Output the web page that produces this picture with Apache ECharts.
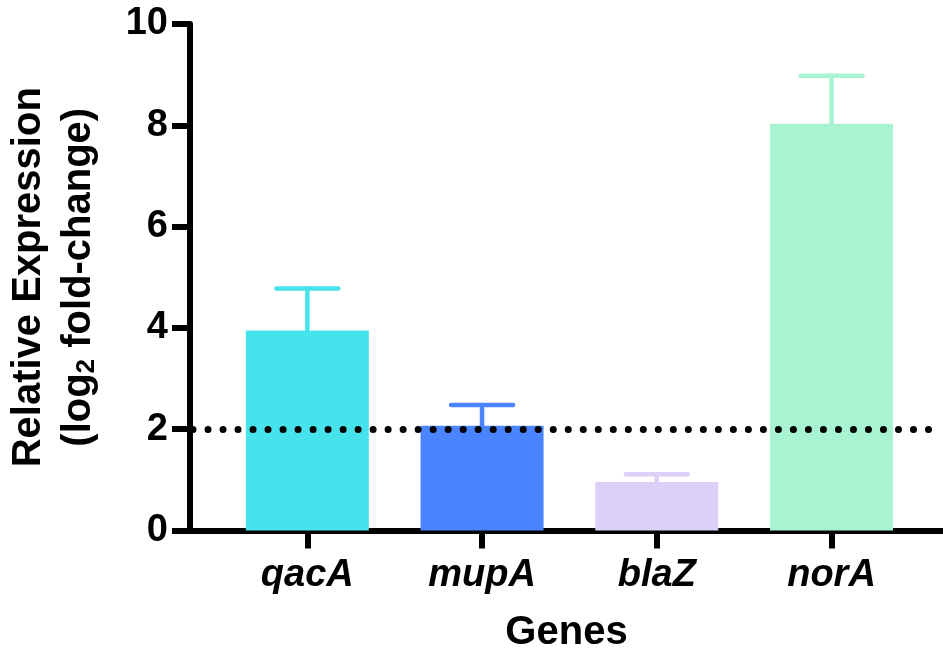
<!DOCTYPE html>
<html>
<head>
<meta charset="utf-8">
<style>
  html, body { margin: 0; padding: 0; background: #fff; }
  #chart { width: 943px; height: 650px; }
</style>
<script src="https://cdn.jsdelivr.net/npm/echarts@6/dist/echarts.min.js"></script>
</head>
<body>
<div id="chart"></div>
<script>
const genes = ['qacA', 'mupA', 'blaZ', 'norA'];
const positions = [1, 2, 3, 4];
const means = [3.95, 2.07, 0.96, 8.03];
const upperErr = [4.78, 2.48, 1.11, 8.98];
const barColors = ['#47E3EC', '#4A84FF', '#DDD0F8', '#A7F3D2'];
const threshold = 2;

const font = "'Liberation Sans', Arial, sans-serif";
const chart = echarts.init(document.getElementById('chart'));

const barData = positions.map((x, i) => ({
  value: [x, means[i]],
  itemStyle: { color: barColors[i] },
}));

const errData = positions.map((x, i) => [x, means[i], upperErr[i], i]);

const option = {
  animation: false,
  grid: { left: 190, right: 0, top: 24, bottom: 119.5, outerBoundsMode: 'none' },
  xAxis: {
    type: 'value',
    min: 0.3286,
    max: 4.638,
    splitLine: { show: false },
    axisLine: { lineStyle: { color: '#000', width: 6 } },
    axisTick: {
      customValues: positions,
      length: 18,
      lineStyle: { color: '#000', width: 6 },
    },
    axisLabel: {
      customValues: positions,
      formatter: (v) => genes[Math.round(v) - 1] || '',
      fontFamily: font,
      fontWeight: 'bold',
      fontStyle: 'italic',
      fontSize: 38,
      color: '#000',
      margin: 26,
    },
    name: 'Genes',
    nameLocation: 'middle',
    nameGap: 82,
    nameTextStyle: {
      fontFamily: font,
      fontWeight: 'bold',
      fontSize: 40,
      color: '#000',
    },
  },
  yAxis: {
    type: 'value',
    min: 0,
    max: 10,
    interval: 2,
    splitLine: { show: false },
    axisLine: { show: true, lineStyle: { color: '#000', width: 6 } },
    axisTick: {
      show: true,
      length: 18,
      lineStyle: { color: '#000', width: 6 },
    },
    axisLabel: {
      fontFamily: font,
      fontWeight: 'bold',
      fontSize: 38,
      color: '#000',
      margin: 22,
    },
    name: 'Relative Expression\n{t|(log}{s|2}{t| fold-change)}',
    nameLocation: 'middle',
    nameRotate: 90,
    nameGap: 86,
    nameTextStyle: {
      fontFamily: font,
      fontWeight: 'bold',
      fontSize: 40,
      color: '#000',
      lineHeight: 50,
      rich: {
        t: { fontFamily: font, fontWeight: 'bold', fontSize: 40, color: '#000' },
        s: {
          fontFamily: font,
          fontWeight: 'bold',
          fontSize: 26,
          color: '#000',
          padding: [16, 0, 0, 0],
        },
      },
    },
  },
  series: [
    {
      type: 'bar',
      data: barData,
      barWidth: 123,
      z: 2,
      markLine: {
        silent: true,
        symbol: 'none',
        label: { show: false },
        lineStyle: {
          color: '#000',
          width: 7,
          type: [0.01, 15],
          cap: 'round',
          dashOffset: -3,
        },
        data: [{ yAxis: threshold }],
        z: 5,
      },
    },
    {
      type: 'custom',
      data: errData,
      z: 3,
      renderItem: (params, api) => {
        const x = api.value(0);
        const top = api.coord([x, api.value(1)]);
        const hi = api.coord([x, api.value(2)]);
        const color = barColors[api.value(3)];
        const half = 31;
        const style = { stroke: color, lineWidth: 4.5, lineCap: 'round' };
        return {
          type: 'group',
          children: [
            { type: 'line', shape: { x1: top[0], y1: top[1], x2: hi[0], y2: hi[1] }, style },
            { type: 'line', shape: { x1: hi[0] - half, y1: hi[1], x2: hi[0] + half, y2: hi[1] }, style },
          ],
        };
      },
    },
  ],
};

chart.setOption(option);
</script>
</body>
</html>
